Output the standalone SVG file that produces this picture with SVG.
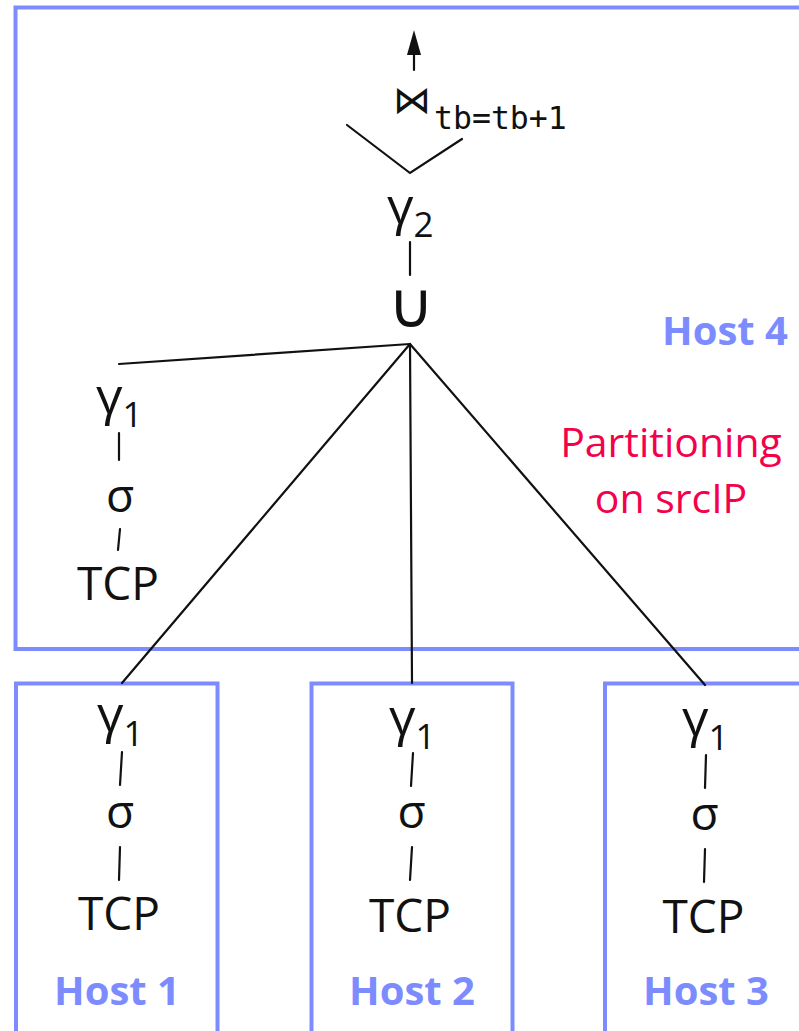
<svg xmlns="http://www.w3.org/2000/svg" width="799" height="1031" viewBox="0 0 799 1031">
<style>
.box{fill:none;stroke:#7C8CFF;stroke-width:4}
.op{font-family:"Open Sans","Noto Sans",sans-serif;font-size:46px;fill:#111}
.g{font-size:52px}
.sub{font-size:35px}
.host{font-family:"Open Sans","Noto Sans",sans-serif;font-size:40px;font-weight:bold;fill:#7C8CFF;text-anchor:middle}
.part{font-family:"Open Sans","Noto Sans",sans-serif;font-size:41px;fill:#F5004B;text-anchor:middle}
.mid{text-anchor:middle}
.ln{stroke:#111;stroke-width:2.2;fill:none;stroke-linecap:round}
.sym{font-family:"DejaVu Sans",sans-serif;fill:#111}
.mono{font-family:"DejaVu Sans Mono","Liberation Mono",monospace;font-size:31.5px;fill:#111}
</style>
<rect width="799" height="1031" fill="#fff"/>
<g id="host4">
<rect class="box" x="15.5" y="7.5" width="820" height="641.5"/>
<text class="host" x="725" y="345">Host 4</text>
<text class="part" x="671" y="457">Partitioning</text>
<text class="part" x="671" y="513">on srcIP</text>
</g>
<g id="join">
<text class="sym" x="393" y="113" font-size="38">⋈</text>
<text class="mono" x="434" y="129">tb=tb+1</text>
</g>
<g id="gamma2"><text class="op" x="387" y="224"><tspan class="g">γ</tspan><tspan class="sub" dy="13">2</tspan></text></g>
<g id="union"><text class="sym mid" x="411" y="327" font-size="63">∪</text></g>
<g id="stack4">
<text class="op" x="96" y="414"><tspan class="g">γ</tspan><tspan class="sub" dy="13">1</tspan></text>
<text class="op mid" x="120" y="512">σ</text>
<text class="op mid" x="118" y="600">TCP</text>
</g>
<g id="host1">
<rect class="box" x="16" y="683.5" width="201.5" height="400"/>
<text class="op" x="97" y="732"><tspan class="g">γ</tspan><tspan class="sub" dy="14">1</tspan></text>
<text class="op mid" x="120" y="828">σ</text>
<text class="op mid" x="119" y="930">TCP</text>
<text class="host" x="117" y="1005">Host 1</text>
</g>
<g id="host2">
<rect class="box" x="311.5" y="683.5" width="201" height="400"/>
<text class="op" x="389" y="735"><tspan class="g">γ</tspan><tspan class="sub" dy="14">1</tspan></text>
<text class="op mid" x="411.5" y="828">σ</text>
<text class="op mid" x="410" y="932">TCP</text>
<text class="host" x="412" y="1005">Host 2</text>
</g>
<g id="host3">
<rect class="box" x="605" y="683.5" width="300" height="400"/>
<text class="op" x="682" y="736"><tspan class="g">γ</tspan><tspan class="sub" dy="14">1</tspan></text>
<text class="op mid" x="704.5" y="830">σ</text>
<text class="op mid" x="703.5" y="933">TCP</text>
<text class="host" x="706" y="1005">Host 3</text>
</g>
<g id="connectors">
<line class="ln" x1="414" y1="70" x2="414" y2="52"/>
<polygon points="407,55 414,30 421,55" fill="#111"/>
<polyline class="ln" points="347,125 410,173 462,139"/>
<line class="ln" x1="410" y1="242" x2="410" y2="275"/>
<line class="ln" x1="410" y1="344" x2="119" y2="364"/>
<line class="ln" x1="410" y1="344" x2="122" y2="683"/>
<line class="ln" x1="410" y1="344" x2="412" y2="683"/>
<line class="ln" x1="410" y1="344" x2="705" y2="685"/>
<line class="ln" x1="119" y1="433" x2="119" y2="460"/>
<line class="ln" x1="120" y1="529" x2="118" y2="550"/>
<line class="ln" x1="122" y1="752" x2="120" y2="785"/>
<line class="ln" x1="120" y1="847" x2="119" y2="880"/>
<line class="ln" x1="413" y1="753" x2="411" y2="786"/>
<line class="ln" x1="412" y1="847" x2="410" y2="880"/>
<line class="ln" x1="706" y1="755" x2="705" y2="788"/>
<line class="ln" x1="705" y1="849" x2="704" y2="882"/>
</g>
</svg>
